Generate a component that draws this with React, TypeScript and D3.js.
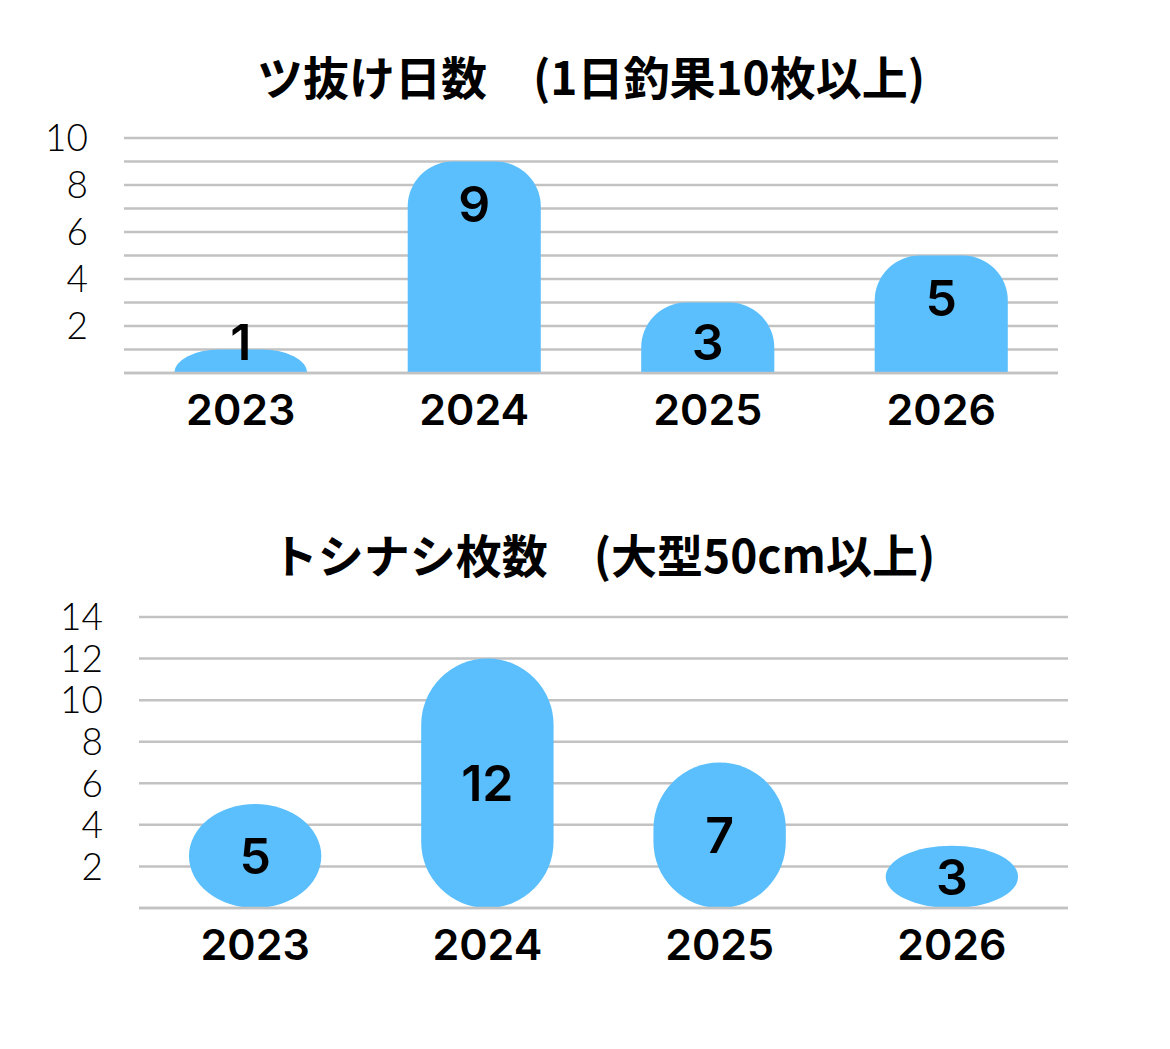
import React, { useEffect, useRef } from "react";
import * as d3 from "d3";

const years = ["2023", "2024", "2025", "2026"];
const tsunukeDays = [1, 9, 3, 5];
const toshinashiCount = [5, 12, 7, 3];
const topTicks = [2, 4, 6, 8, 10];
const bottomTicks = [2, 4, 6, 8, 10, 12, 14];

const topTitle = "ツ抜け日数　(1日釣果10枚以上)";
const bottomTitle = "トシナシ枚数　(大型50cm以上)";

const BLUE = "#5bbffd";
const GRID = "#c2c2c2";

const App = () => {
  const svgRef = useRef(null);

  useEffect(() => {
    const svg = d3.select(svgRef.current);
    svg.selectAll("*").remove();

    const drawChart = (opts) => {
      const { values, max, gridStep, ticks, title, left, right, top, bottom, titleY, pill } = opts;
      const g = svg.append("g");

      const x = d3.scaleBand().domain(years).range([left, right]).paddingInner(0.43).paddingOuter(0.215);
      const y = d3.scaleLinear().domain([0, max]).range([bottom, top]);

      // title
      g.append("text")
        .attr("x", (left + right) / 2)
        .attr("y", titleY)
        .attr("text-anchor", "middle")
        .attr("font-family", "'Noto Sans CJK JP', sans-serif")
        .attr("font-weight", 700)
        .attr("font-size", 46)
        .text(title);

      // grid lines
      g.selectAll("line.grid")
        .data(d3.range(0, max + 0.001, gridStep))
        .enter()
        .append("line")
        .attr("x1", left)
        .attr("x2", right)
        .attr("y1", (d) => y(d))
        .attr("y2", (d) => y(d))
        .attr("stroke", GRID)
        .attr("stroke-width", 2.5);

      // y tick labels
      g.selectAll("text.tick")
        .data(ticks)
        .enter()
        .append("text")
        .attr("x", left - 36)
        .attr("y", (d) => y(d))
        .attr("dy", "0.36em")
        .attr("text-anchor", "end")
        .attr("font-family", "Lato, sans-serif")
        .attr("font-weight", 300)
        .attr("font-size", 37)
        .text((d) => d);

      const bw = x.bandwidth();

      // bars
      years.forEach((yr, i) => {
        const v = values[i];
        const x0 = x(yr);
        const yt = y(v);
        const h = bottom - yt;
        if (pill) {
          g.append("rect")
            .attr("x", x0)
            .attr("y", yt)
            .attr("width", bw)
            .attr("height", h)
            .attr("rx", bw / 2)
            .attr("ry", bw / 2)
            .attr("fill", BLUE);
        } else {
          // only the top corners are rounded
          const rx = 45;
          const ry = Math.min(45, h);
          const path =
            `M${x0},${bottom}V${yt + ry}A${rx},${ry} 0 0 1 ${x0 + rx},${yt}` +
            `H${x0 + bw - rx}A${rx},${ry} 0 0 1 ${x0 + bw},${yt + ry}V${bottom}Z`;
          g.append("path").attr("d", path).attr("fill", BLUE);
        }
      });

      // baseline over bars
      g.append("line")
        .attr("x1", left)
        .attr("x2", right)
        .attr("y1", y(0))
        .attr("y2", y(0))
        .attr("stroke", GRID)
        .attr("stroke-width", 2.5);

      // value labels
      years.forEach((yr, i) => {
        const v = values[i];
        const yt = y(v);
        const cy = pill ? (yt + bottom) / 2 : Math.min(yt + 42, bottom - 31);
        g.append("text")
          .attr("x", x(yr) + bw / 2)
          .attr("y", cy)
          .attr("dy", "0.36em")
          .attr("text-anchor", "middle")
          .attr("font-family", "Inter, sans-serif")
          .attr("font-weight", 600)
          .attr("font-size", 50)
          .text(v);
      });

      // year labels
      g.selectAll("text.year")
        .data(years)
        .enter()
        .append("text")
        .attr("x", (d) => x(d) + bw / 2)
        .attr("y", bottom + 52)
        .attr("text-anchor", "middle")
        .attr("font-family", "Inter, sans-serif")
        .attr("font-weight", 600)
        .attr("font-size", 43)
        .text((d) => d);
    };

    drawChart({
      values: tsunukeDays,
      max: 10,
      gridStep: 1,
      ticks: topTicks,
      title: topTitle,
      left: 124,
      right: 1058,
      top: 138,
      bottom: 373,
      titleY: 95,
      pill: false,
    });

    drawChart({
      values: toshinashiCount,
      max: 14,
      gridStep: 2,
      ticks: bottomTicks,
      title: bottomTitle,
      left: 139,
      right: 1068,
      top: 617,
      bottom: 908,
      titleY: 573,
      pill: true,
    });
  }, []);

  return (
    <svg
      ref={svgRef}
      width={1170}
      height={1049}
      style={{ position: "absolute", left: 0, top: 0, background: "#fff" }}
    ></svg>
  );
};

export default App;
